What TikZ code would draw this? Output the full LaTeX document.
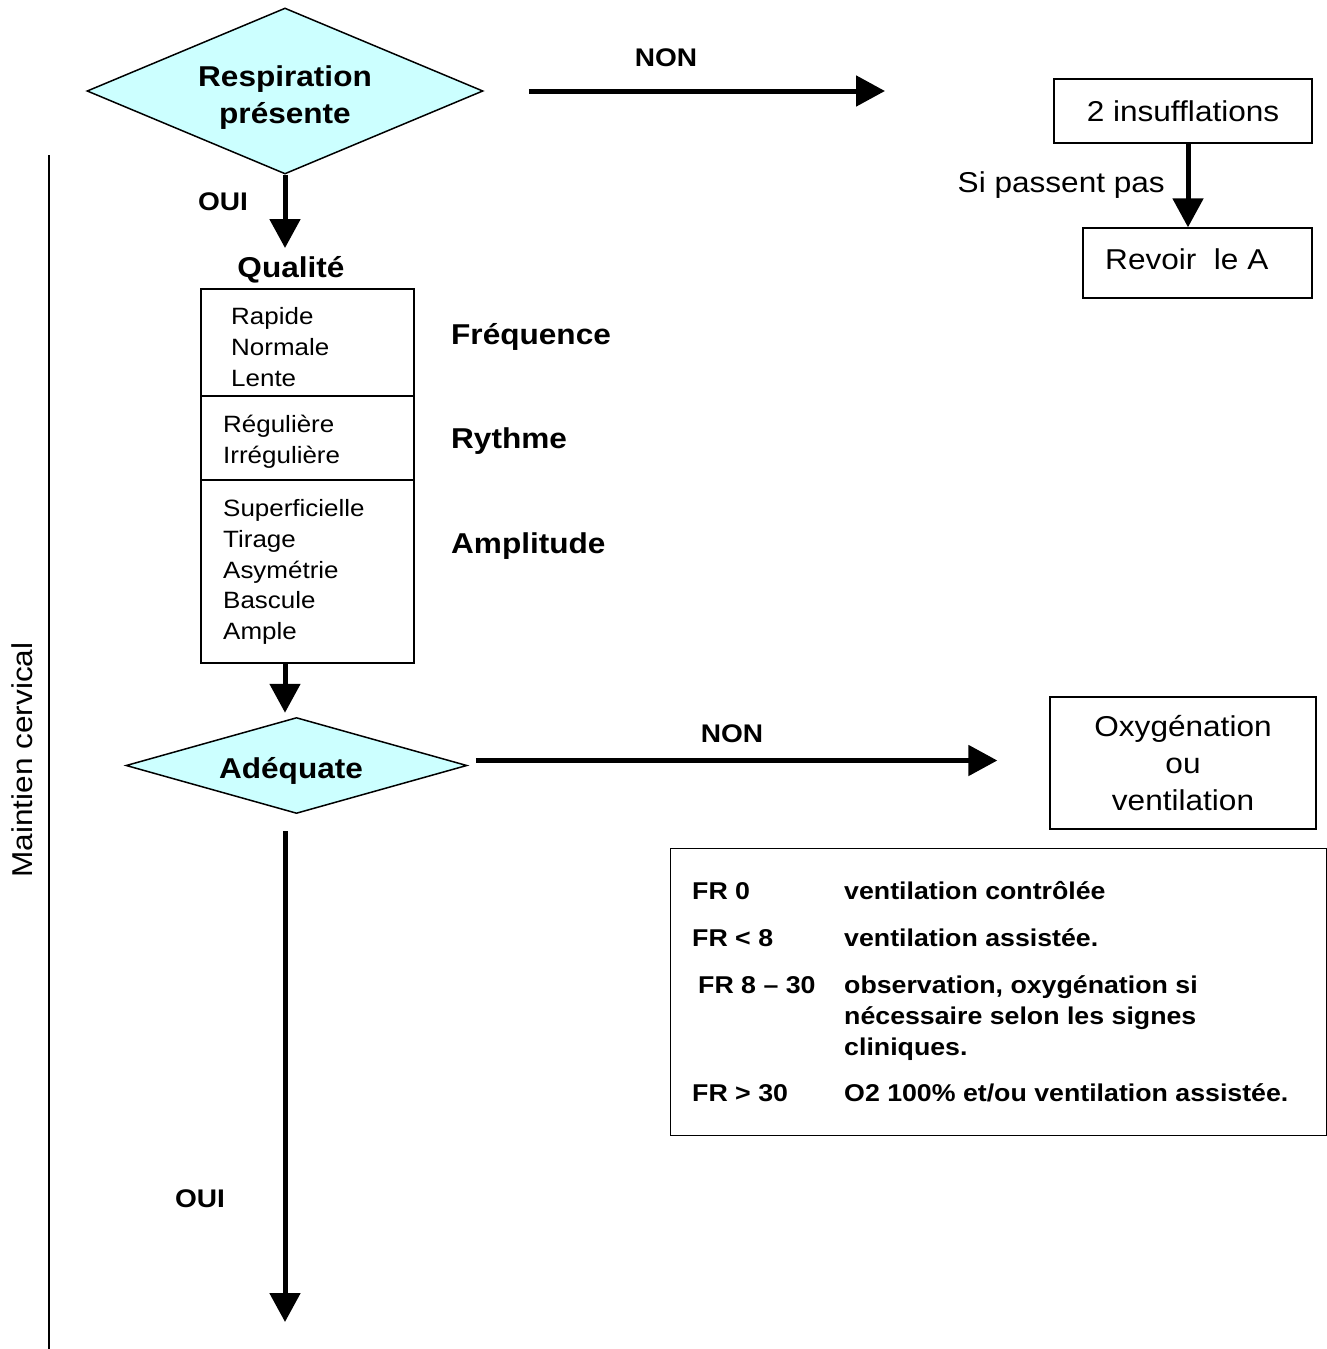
\documentclass[tikz,border=0pt]{standalone}
\usepackage{fontspec}
\setmainfont{Liberation Sans}[FakeStretch=1.1]
\usetikzlibrary{arrows.meta,shapes.geometric,calc}
\definecolor{paleaqua}{HTML}{CCFFFF}
\newcommand\fsz[2]{\fontsize{#1}{#2}\selectfont}

\begin{document}
\begin{tikzpicture}[x=1pt,y=-1pt,
  txt/.style={inner sep=0pt},
  bigb/.style={txt,font=\fsz{28.7}{37}\bfseries},
  big/.style={txt,font=\fsz{28.7}{37}},
  small/.style={txt,font=\fsz{23.6}{31},align=left},
  yesno/.style={txt,font=\fsz{25.5}{30}\bfseries},
  tab/.style={txt,font=\fsz{24.3}{31}\bfseries,align=left},
  box/.style={draw,line width=1.3pt,inner sep=0pt},
  decision/.style={diamond,draw,fill=paleaqua,line width=1.5pt,inner sep=0pt},
  flow/.style={line width=5pt,-{Triangle[length=29pt,width=30pt]}},
]
\useasboundingbox (0,0) rectangle (1327,1349);

% --- decisions ---
\node[decision,minimum width=396pt,minimum height=166pt] (d1) at (285,91) {};
\node[bigb,align=center] (d1lbl) at (285,97.3) {Respiration\\présente};
\node[decision,minimum width=341pt,minimum height=96pt] (d2) at (296.5,765.5) {};
\node[bigb,anchor=base] (d2lbl) at (291,778.3) {Adéquate};

% --- quality block ---
\node[bigb,anchor=base] (qual) at (291,277.3) {Qualité};
\node[box,minimum width=213pt,minimum height=107pt] (freqbox) at (307.5,342.5) {};
\node[box,minimum width=213pt,minimum height=84pt] (rythbox) at (307.5,438) {};
\node[box,minimum width=213pt,minimum height=183pt] (amplbox) at (307.5,571.5) {};
\node[small,anchor=north west] (freqtxt) at (231,302.8) {\strut Rapide\\Normale\\Lente};
\node[small,anchor=north west] (rythtxt) at (223,410.8) {\strut Régulière\\Irrégulière};
\node[small,anchor=north west,font=\fsz{23.6}{30.8}] (ampltxt) at (223,494.8)
  {\strut Superficielle\\Tirage\\Asymétrie\\Bascule\\Ample};
\node[bigb,anchor=base west] (freqlbl) at (451,344.3) {Fréquence};
\node[bigb,anchor=base west] (rythlbl) at (451,448.3) {Rythme};
\node[bigb,anchor=base west] (ampllbl) at (451,553.3) {Amplitude};

% --- right-hand boxes ---
\node[box,big,minimum width=258pt,minimum height=64pt] (ins) at (1183,111) {2 insufflations};
\node[box,minimum width=229pt,minimum height=70pt] (rev) at (1197.5,263) {};
\node[big,anchor=base west] (revtxt) at (1105,269.3) {Revoir~~le A};
\node[big,anchor=base east] (sipas) at (1165,192.3) {Si passent pas};
\node[box,big,align=center,minimum width=266pt,minimum height=132pt] (oxy) at (1183,763)
  {Oxygénation\\ou\\ventilation};

% --- respiratory rate table ---
\node[box,anchor=north west,minimum width=656pt,minimum height=287pt] (tbl) at (670,848) {};
\node[tab,anchor=north west] (tblkey) at (692,878)
  {\strut FR 0\\[16pt]FR < 8\\[16pt]\hspace*{6pt}FR 8 – 30\\[77pt]FR > 30};
\node[tab,anchor=north west] (tblval) at (844,878)
  {\strut ventilation contrôlée\\[16pt]ventilation assistée.\\[16pt]observation, oxygénation si\\nécessaire selon les signes\\cliniques.\\[15pt]O2 100\% et/ou ventilation assistée.};

% --- branch labels ---
\node[yesno,anchor=base] (non1) at (666,66.1) {NON};
\node[yesno,anchor=base] (non2) at (732,742.1) {NON};
\node[yesno,anchor=base] (oui1) at (223,210.1) {OUI};
\node[yesno,anchor=base] (oui2) at (200,1207.1) {OUI};

% --- cervical spine bracket ---
\draw[line width=2.5pt] (49,155) -- (49,1349);
\node[big,anchor=base,rotate=90] (cerv) at (32.3,760) {Maintien cervical};

% --- connectors ---
\coordinate (noend) at (885,91);
\coordinate (yesend) at (285,1322);
\draw[flow,shorten >=8pt] (d1.south) -- (d1.south |- qual.north);
\draw[flow,shorten <=45pt] (d1.east) -- (noend);
\draw[flow,shorten >=4pt] (d1.south |- amplbox.south) -- (d1.south |- d2.north);
\draw[flow,shorten <=17pt] (d1.south |- d2.south) -- (yesend);
\draw[flow,shorten <=8pt,shorten >=52pt] ([yshift=5pt]d2.east) -- ([yshift=5pt]d2.east -| oxy.west);
\draw[flow] ([xshift=5pt]ins.south) -- ([xshift=5pt]ins.south |- rev.north);
\end{tikzpicture}
\end{document}
